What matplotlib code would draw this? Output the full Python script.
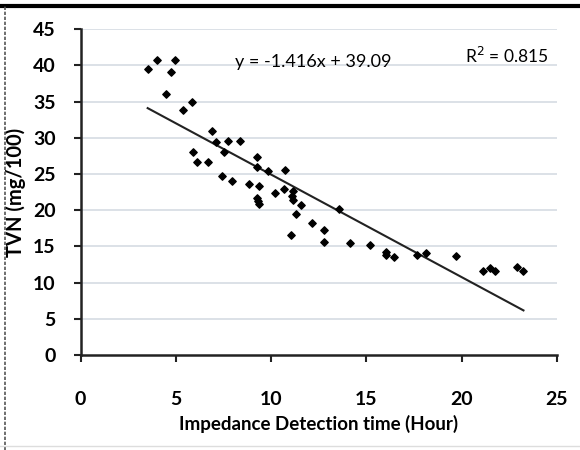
import matplotlib
matplotlib.use("Agg")
import matplotlib.pyplot as plt
import numpy as np

# Impedance detection time (hour) vs TVN (mg/100)
hours = [3.52, 3.99, 4.95, 4.74, 4.48, 5.39, 5.86, 6.88, 7.11, 7.75,
         8.37, 7.54, 5.91, 6.13, 6.70, 9.24, 9.24, 9.82, 10.75, 7.42,
         7.96, 8.86, 9.36, 9.24, 9.30, 9.35, 10.20, 10.69, 11.17, 11.10,
         11.13, 11.55, 11.31, 12.13, 12.78, 12.78, 11.05, 13.58, 14.14, 15.19,
         16.02, 16.02, 16.47, 17.65, 18.14, 19.71, 21.15, 21.50, 21.76, 22.90,
         23.25]
tvn = [39.46, 40.75, 40.75, 39.13, 36.1, 33.8, 34.97, 30.96, 29.4, 29.5,
       29.5, 28.05, 28.1, 26.66, 26.66, 27.35, 25.97, 25.37, 25.5, 24.7,
       24.1, 23.6, 23.3, 21.7, 21.26, 20.9, 22.4, 23.0, 22.7, 21.9,
       21.36, 20.76, 19.5, 18.27, 17.34, 15.68, 16.65, 20.2, 15.44, 15.2,
       14.3, 13.84, 13.5, 13.84, 14.1, 13.65, 11.66, 11.98, 11.66, 12.1,
       11.66]

# trend line from the chart
slope = -1.416
intercept = 39.09
r2 = 0.815

x_ticks = [0, 5, 10, 15, 20, 25]
y_ticks = [0, 5, 10, 15, 20, 25, 30, 35, 40, 45]

plt.rcParams['font.family'] = ['Lato', 'DejaVu Sans']

fig = plt.figure(figsize=(5.8, 4.5), dpi=100)
ax = fig.add_axes([0.139, 0.211, 0.821, 0.724])

# horizontal grid lines only
for yv in y_ticks[1:]:
    ax.axhline(yv, color='#d5dbe3', linewidth=1.2, zorder=0)

ax.scatter(hours, tvn, marker='D', s=14, color='black', zorder=3)

xs = np.array([min(hours), max(hours)])
ax.plot(xs, slope * xs + intercept, color='#222222', linewidth=1.5, zorder=2)

ax.set_xlim(0, 25)
ax.set_ylim(0, 45)
ax.set_xticks(x_ticks)
ax.set_yticks(y_ticks)
ax.tick_params(axis='both', direction='out', length=5, width=1.5, color='#222222')
ax.tick_params(axis='x', pad=21)
ax.tick_params(axis='y', pad=13)
for lab in ax.get_xticklabels() + ax.get_yticklabels():
    lab.set_fontsize(14)
    lab.set_fontweight('bold')

for side in ['top', 'right']:
    ax.spines[side].set_visible(False)
for side in ['left', 'bottom']:
    ax.spines[side].set_linewidth(1.8)
    ax.spines[side].set_color('#222222')

ax.set_xlabel('Impedance Detection time (Hour)', fontsize=13.5, fontweight='bold', labelpad=5)
ax.set_ylabel('TVN (mg/100)', fontsize=14.5, fontweight='bold', labelpad=5)

ax.text(8.1, 39.8, 'y = -1.416x + 39.09', fontsize=13, va='baseline', ha='left')
ax.text(20.2, 40.3, 'R$^2$ = 0.815', fontsize=12.5, va='baseline', ha='left')

# frame around the picture as in the scan
fig.add_artist(plt.Line2D([0, 1], [0.987, 0.987], color='black', linewidth=3,
                          transform=fig.transFigure))
fig.add_artist(plt.Line2D([0.009, 0.009], [0.0, 0.987], color='#555555', linewidth=1.2,
                          linestyle=(0, (2, 1)), transform=fig.transFigure))
fig.add_artist(plt.Line2D([0, 1], [0.01, 0.01], color='#dddddd', linewidth=1,
                          transform=fig.transFigure))

fig.savefig('out.png', dpi=100)
